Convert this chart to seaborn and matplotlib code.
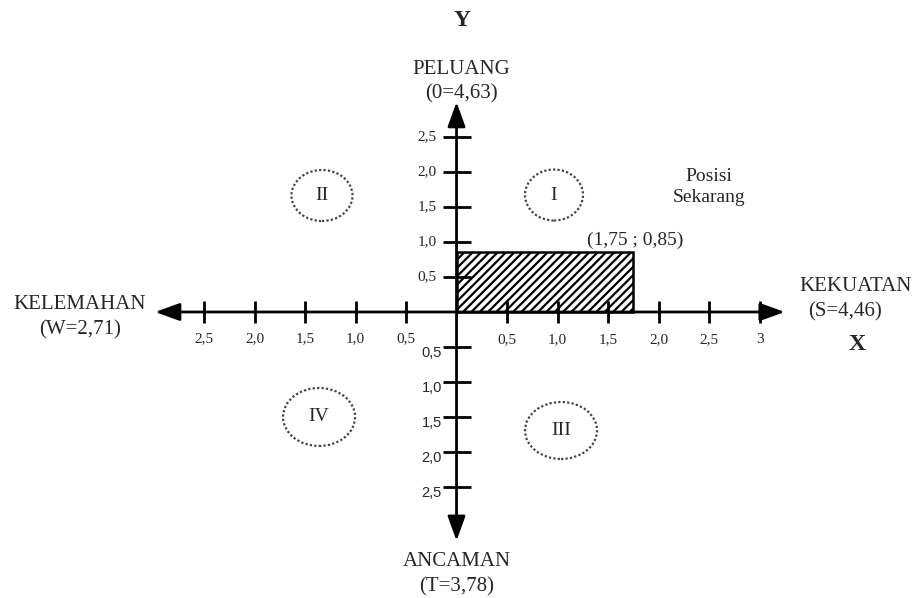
import matplotlib
matplotlib.use("Agg")
import matplotlib.pyplot as plt
import seaborn as sns
import pandas as pd
from matplotlib.patches import Rectangle, Ellipse

# nilai skala sumbu (hanya tanda, bukan garis data)
x_right_ticks = [0.5, 1.0, 1.5, 2.0, 2.5, 3.0]
x_right_labels = ["0,5", "1,0", "1,5", "2,0", "2,5", "3"]
x_left_ticks = [-2.5, -2.0, -1.5, -1.0, -0.5]
x_left_labels = ["2,5", "2,0", "1,5", "1,0", "0,5"]
y_up_ticks = [0.5, 1.0, 1.5, 2.0, 2.5]
y_up_labels = ["0,5", "1,0", "1,5", "2,0", "2,5"]
y_down_ticks = [-0.5, -1.0, -1.5, -2.0, -2.5]
y_down_labels = ["0,5", "1,0", "1,5", "2,0", "2,5"]

# posisi sekarang (kekuatan-kelemahan ; peluang-ancaman)
posisi_x = 1.75
posisi_y = 0.85

# kuadran
kuadran = ["I", "II", "III", "IV"]
kuadran_x = [0.965, -1.332, 1.035, -1.361]
kuadran_y = [1.671, 1.664, -1.693, -1.5]

sns.set_theme(style="white")
plt.rcParams["font.family"] = ["Liberation Serif", "DejaVu Serif"]

fig = plt.figure(figsize=(9.17, 5.98), dpi=100)
ax = fig.add_axes([0, 0, 1, 1])
ax.set_xlim(-4.520, 4.559)
ax.set_ylim(-4.086, 4.457)
ax.axis("off")

txt = "#262626"

# sumbu dengan panah
arrow = dict(arrowstyle="<|-|>,head_length=0.75,head_width=0.27", lw=2.0,
             color="black", shrinkA=0, shrinkB=0, mutation_scale=20)
ax.annotate("", xy=(3.25, 0), xytext=(-2.985, 0), arrowprops=arrow)
ax.annotate("", xy=(0, 3.0), xytext=(0, -3.27), arrowprops=arrow)

# tanda skala sebagai marker
ticks_x = pd.DataFrame({"x": x_right_ticks + x_left_ticks,
                        "y": [0] * (len(x_right_ticks) + len(x_left_ticks))})
ticks_y = pd.DataFrame({"x": [0] * (len(y_up_ticks) + len(y_down_ticks)),
                        "y": y_up_ticks + y_down_ticks})
sns.scatterplot(data=ticks_x, x="x", y="y", marker="|", s=260,
                color="black", linewidth=2.0, ax=ax, legend=False)
sns.scatterplot(data=ticks_y, x="x", y="y", marker="_", s=420,
                color="black", linewidth=2.0, ax=ax, legend=False)

for v, lab in zip(x_right_ticks, x_right_labels):
    ax.text(v, -0.40, lab, ha="center", va="center", fontsize=11, color=txt)
for v, lab in zip(x_left_ticks, x_left_labels):
    ax.text(v, -0.38, lab, ha="center", va="center", fontsize=11, color=txt)
for v, lab in zip(y_up_ticks, y_up_labels):
    ax.text(-0.2, v, lab, ha="right", va="center", fontsize=11, color=txt)
for v, lab in zip(y_down_ticks, y_down_labels):
    ax.text(-0.145, v - 0.08, lab, ha="right", va="center", fontsize=10.5,
            color=txt, family=["Liberation Sans", "DejaVu Sans"])

# kotak arsir posisi sekarang
plt.rcParams["hatch.linewidth"] = 1.6
ax.add_patch(Rectangle((0, 0), posisi_x, posisi_y, fill=False, hatch="////",
                       lw=1.8, edgecolor="black", zorder=3))
ax.text(posisi_x + 0.02, posisi_y + 0.05, "(1,75 ; 0,85)", ha="center",
        va="bottom", fontsize=14, color=txt)

# lingkaran kuadran
sizes = {"I": (0.574, 0.729), "II": (0.604, 0.729),
         "III": (0.713, 0.814), "IV": (0.713, 0.829)}
for k, cx, cy in zip(kuadran, kuadran_x, kuadran_y):
    w, h = sizes[k]
    ax.add_patch(Ellipse((cx, cy), w, h, fill=False, edgecolor="#444444",
                         lw=1.6, linestyle=(0, (1, 1))))
    ax.text(cx, cy, k, ha="center", va="center", fontsize=14, color=txt)

# label sumbu
ax.text(0.054, 4.17, "Y", ha="center", va="center", fontsize=17,
        fontweight="bold", color=txt)
ax.text(0.045, 3.457, "PELUANG", ha="center", va="center", fontsize=15, color=txt)
ax.text(0.045, 3.114, "(0=4,63)", ha="center", va="center", fontsize=15, color=txt)
ax.text(0.005, -3.571, "ANCAMAN", ha="center", va="center", fontsize=15, color=txt)
ax.text(0.005, -3.93, "(T=3,78)", ha="center", va="center", fontsize=15, color=txt)
ax.text(-3.73, 0.10, "KELEMAHAN", ha="center", va="center", fontsize=15, color=txt)
ax.text(-3.73, -0.257, "(W=2,71)", ha="center", va="center", fontsize=15, color=txt)
ax.text(3.946, 0.357, "KEKUATAN", ha="center", va="center", fontsize=15, color=txt)
ax.text(3.85, 0.0, "(S=4,46)", ha="center", va="center", fontsize=15, color=txt)
ax.text(3.965, -0.471, "X", ha="center", va="center", fontsize=17,
        fontweight="bold", color=txt)
ax.text(2.5, 1.94, "Posisi", ha="center", va="center", fontsize=14, color=txt)
ax.text(2.5, 1.63, "Sekarang", ha="center", va="center", fontsize=14, color=txt)

fig.savefig("out.png", dpi=100)
